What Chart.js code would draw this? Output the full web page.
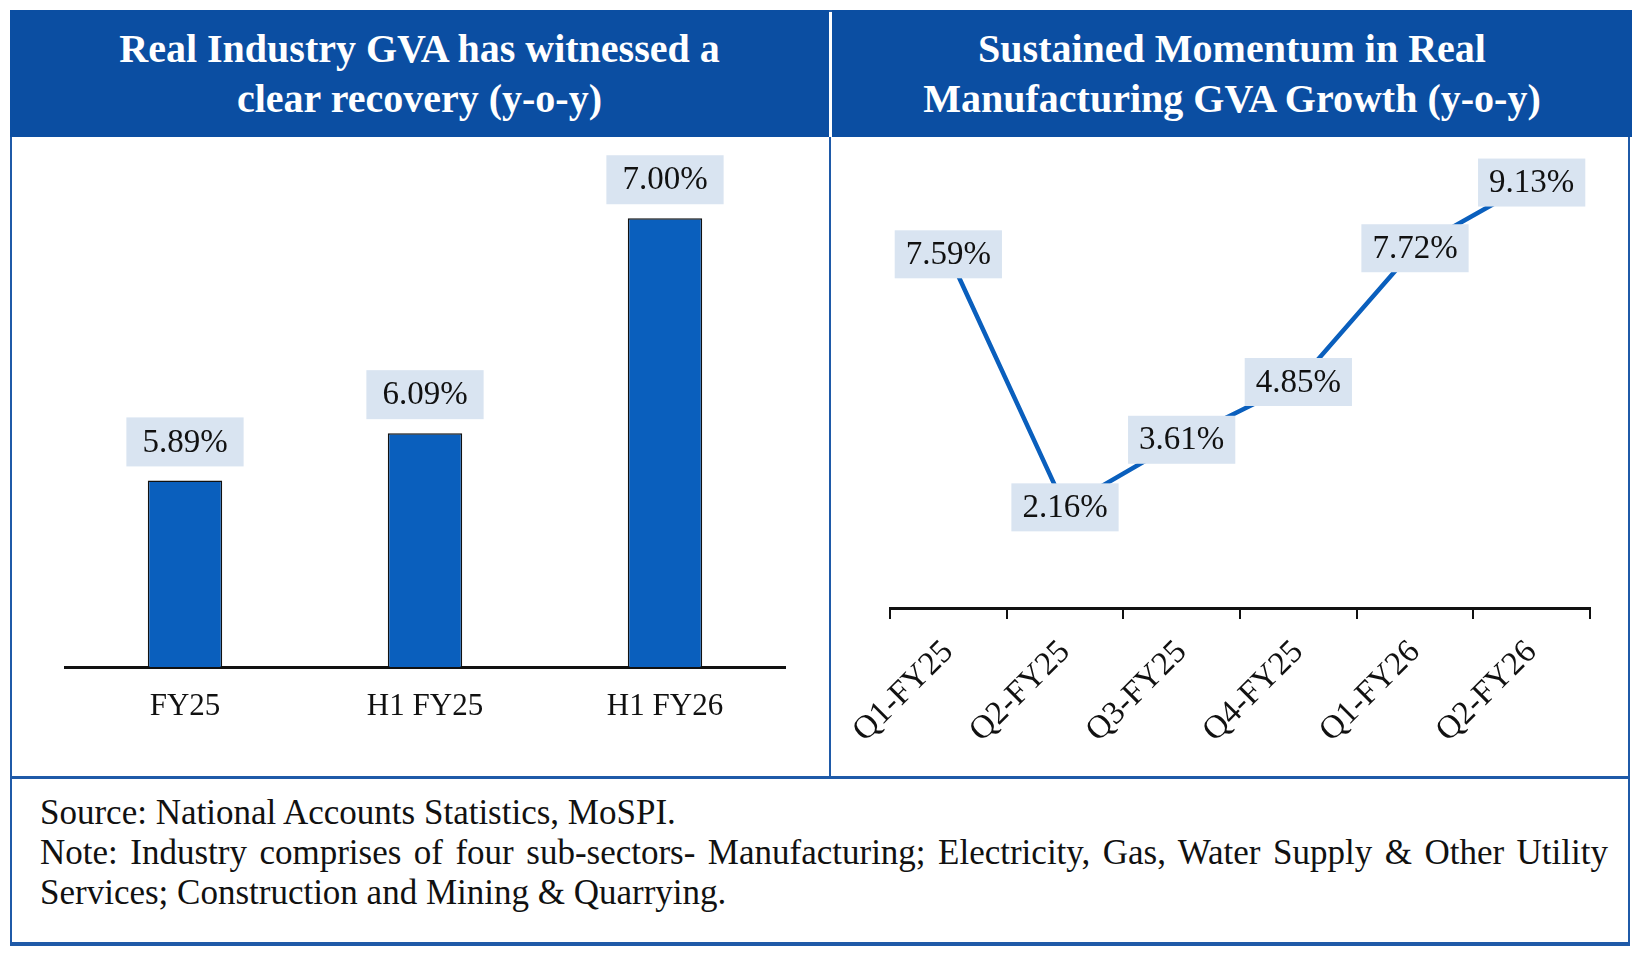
<!DOCTYPE html>
<html>
<head>
<meta charset="utf-8">
<script src="https://cdn.jsdelivr.net/npm/chart.js@4.4.1/dist/chart.umd.min.js"></script>
<style>
html,body{margin:0;padding:0;background:#fff;width:1642px;height:958px;overflow:hidden;font-family:'Liberation Serif',serif;}
#frame{position:absolute;left:10px;top:10px;width:1616px;height:930px;border:2px solid #1f5aa8;border-bottom-width:4px;}
.hdr{position:absolute;top:10px;height:127px;background:#0b4ea2;color:#fff;font-weight:bold;font-size:40px;line-height:50px;display:flex;align-items:center;justify-content:center;text-align:center;}
#hdrL{left:10px;width:819px;}
#hdrR{left:832px;width:800px;}
#vdiv{position:absolute;left:829px;top:137px;width:2px;height:641px;background:#1f5aa8;}
#hdiv{position:absolute;left:10px;top:776px;width:1620px;height:3px;background:#1f5aa8;}
.cv{position:absolute;top:139px;height:637px;}
#wrapL{left:12px;width:816px;}
#wrapR{left:832px;width:796px;}
#foot{position:absolute;left:40px;top:793px;width:1568px;font-size:35px;line-height:40px;color:#111;}
#foot div{white-space:nowrap;}
#foot .j{text-align:justify;text-align-last:justify;white-space:normal;}
</style>
</head>
<body>
<div id="frame"></div>
<div class="hdr" id="hdrL">Real Industry GVA has witnessed a<br>clear recovery (y-o-y)</div>
<div class="hdr" id="hdrR">Sustained Momentum in Real<br>Manufacturing GVA Growth (y-o-y)</div>
<div id="vdiv"></div>
<div id="hdiv"></div>
<div class="cv" id="wrapL"><canvas id="barChart"></canvas></div>
<div class="cv" id="wrapR"><canvas id="lineChart"></canvas></div>
<div id="foot">
  <div>Source: National Accounts Statistics, MoSPI.</div>
  <div class="j">Note: Industry comprises of four sub-sectors- Manufacturing; Electricity, Gas, Water Supply &amp; Other Utility</div>
  <div>Services; Construction and Mining &amp; Quarrying.</div>
</div>
<script>
// left panel
const barLabels=['FY25','H1 FY25','H1 FY26'];
const barValues=[5.89,6.09,7.00];
// right panel
const qtrLabels=['Q1-FY25','Q2-FY25','Q3-FY25','Q4-FY25','Q1-FY26','Q2-FY26'];
const qtrValues=[7.59,2.16,3.61,4.85,7.72,9.13];

const FONT="'Liberation Serif', serif";
const BLUE='#0a5fbd';
const BOX='#d9e4f1';
Chart.defaults.font.family=FONT;
Chart.defaults.color='#111';

// value boxes drawn on top of the marks
function valueBoxes(opt){
  return {
    id:'valueBoxes',
    afterDatasetsDraw(chart){
      const ctx=chart.ctx;
      const meta=chart.getDatasetMeta(0);
      const data=chart.data.datasets[0].data;
      ctx.save();
      ctx.font=opt.size+'px '+FONT;
      ctx.textAlign='center';ctx.textBaseline='middle';
      meta.data.forEach((el,i)=>{
        const t=data[i].toFixed(2)+'%';
        const w=ctx.measureText(t).width+opt.padX*2;
        const h=opt.h;
        const cy=opt.above?el.y-opt.gap-h/2:el.y;
        ctx.fillStyle=BOX;
        ctx.fillRect(el.x-w/2,cy-h/2,w,h);
        ctx.fillStyle='#111';
        ctx.fillText(t,el.x,cy+1);
      });
      ctx.restore();
    }
  };
}

new Chart(document.getElementById('barChart'),{
  type:'bar',
  data:{labels:barLabels,datasets:[{data:barValues,backgroundColor:BLUE,borderColor:'#111',borderWidth:1.5,borderSkipped:'start',categoryPercentage:1,barPercentage:0.31}]},
  options:{
    responsive:true,maintainAspectRatio:false,animation:false,
    layout:{padding:{left:53,right:43,top:32,bottom:0}},
    plugins:{legend:{display:false},tooltip:{enabled:false}},
    scales:{
      x:{grid:{display:false,drawTicks:false},border:{display:true,color:'#111',width:3},
         ticks:{color:'#111',font:{size:31},padding:21,maxRotation:0,minRotation:0},
         afterFit(s){s.height=109;}},
      y:{display:false,min:5.1,max:7.2}
    }
  },
  plugins:[valueBoxes({size:33,padX:16,h:49,above:true,gap:14})]
});

new Chart(document.getElementById('lineChart'),{
  type:'line',
  data:{labels:qtrLabels,datasets:[{data:qtrValues,borderColor:BLUE,borderWidth:4.5,pointRadius:0,tension:0,fill:false}]},
  options:{
    responsive:true,maintainAspectRatio:false,animation:false,
    layout:{padding:{left:58,right:38,top:3,bottom:0}},
    plugins:{legend:{display:false},tooltip:{enabled:false}},
    scales:{
      x:{offset:true,
         grid:{display:true,offset:true,drawOnChartArea:false,drawTicks:true,tickLength:11,color:'#111',lineWidth:2},
         border:{display:true,color:'#111',width:3},
         ticks:{color:'#111',font:{size:33},padding:14,maxRotation:45,minRotation:45},
         afterFit(s){s.height=168;}},
      y:{display:false,min:0,max:10}
    }
  },
  plugins:[valueBoxes({size:33,padX:11,h:48,above:false})]
});
</script>
</body>
</html>
